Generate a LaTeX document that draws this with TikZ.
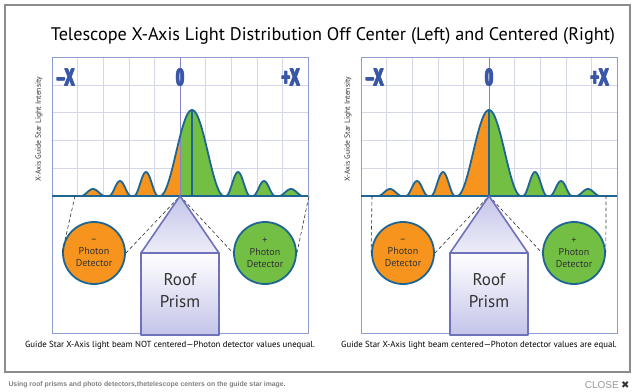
\documentclass[tikz,border=0pt]{standalone}
\usepackage{fontspec}
\setmainfont{PT Sans}
\newfontfamily\footfont{Liberation Sans}
\newfontfamily\heavyfont[FakeBold=2.5]{Liberation Sans}
\newfontfamily\symfont{DejaVu Sans}
\usepackage{tikz}
\usetikzlibrary{positioning}
\newcommand\thicktext[1]{\rlap{#1}\hspace{1pt}\rlap{#1}\hspace{1pt}#1}

\definecolor{frameblue}{HTML}{8F9CD0}
\definecolor{gridgray}{HTML}{D3D7E8}
\definecolor{axispurple}{HTML}{8783C4}
\definecolor{curveblue}{HTML}{1F6592}
\definecolor{lightorange}{HTML}{F7941E}
\definecolor{lightgreen}{HTML}{72BF44}
\definecolor{prismblue}{HTML}{6E72B8}
\definecolor{prismfill}{HTML}{C4C4EA}
\definecolor{labelblue}{HTML}{3A57A7}
\definecolor{textgray}{HTML}{333333}

\begin{document}
\begin{tikzpicture}[x=1pt,y=-1pt,
		declare function={cb(\t)=cos(90*max(-1,min(1,\t)));
			bump(\u,\c,\w)=cb((\u-\c)/\w)*cb((\u-\c)/\w);
			lobe(\u)=86*bump(\u,0,32)+24*bump(abs(\u),46,12)+15*bump(abs(\u),72,11)+7*bump(abs(\u),99,12);},
		detector/.style={circle,draw=curveblue,line width=1.8pt,minimum size=62pt,inner sep=0pt,align=center,font=\fontsize{10}{12}\selectfont,text=textgray},
		axislabel/.style={text=labelblue,font=\heavyfont\bfseries\fontsize{24}{24}\selectfont,xscale=0.6},
		ylabel/.style={rotate=90,text=textgray,font=\fontsize{7.6}{8}\selectfont},
		caption/.style={text=black,font=\fontsize{8.8}{10}\selectfont},
		prismtext/.style={align=center,text=textgray,font=\fontsize{17}{22}\selectfont},
		prism/.style={draw=prismblue,line width=1.6pt,line join=round},
		beam/.style={draw=textgray,line width=0.6pt,dash pattern=on 3.5pt off 2.5pt},
		curve/.style={curveblue,line width=1.8pt,line join=round}]
	\useasboundingbox (0,0) rectangle (640,391);
	\fill[white] (0,0) rectangle (640,391);
	\draw[gray!90,line width=1.5pt] (5,5) rectangle (630,372);
	\node[anchor=base,font=\fontsize{18.2}{20}\selectfont] (title) at (333,40) {Telescope X-Axis Light Distribution Off Center (Left) and Centered (Right)};

	\foreach \i/\sx/\pk/\note in {L/52/140/{Guide Star X-Axis light beam NOT centered—Photon detector values unequal.},
			R/361/128/{Guide Star X-Axis light beam centered—Photon detector values are equal.}}{
		\begin{scope}[xshift=\sx]
			\foreach \gx in {1,...,9}
				\draw[gridgray] (\gx*25.6,57) -- (\gx*25.6,196);
			\foreach \gy in {1,...,4}
				\draw[gridgray] (0,57+\gy*27.8) -- (256,57+\gy*27.8);
			\begin{scope}
				\clip (0,50) rectangle (128,200);
				\fill[lightorange] (\pk-117,196) -- plot[domain=-117:117,samples=235] ({\pk+\x},{196-lobe(\x)}) -- cycle;
			\end{scope}
			\begin{scope}
				\clip (128,50) rectangle (260,200);
				\fill[lightgreen] (\pk-117,196) -- plot[domain=-117:117,samples=235] ({\pk+\x},{196-lobe(\x)}) -- cycle;
			\end{scope}
			\draw[axispurple,line width=0.8pt] (128,57) -- (128,196);
			\draw[curve] plot[domain=-117:117,samples=235] ({\pk+\x},{196-lobe(\x)});
			\draw[curve] (\pk,110) -- (\pk,196);
			\draw[frameblue,line width=0.8pt] (0,57) rectangle (256,196);
			\draw[frameblue,line width=0.8pt] (0,196) rectangle (256,333);
			\draw[curve] (0,196) -- (256,196);

			\node[axislabel] (negx\i) at (13.5,77) {\thicktext{–X}};
			\node[axislabel] (zero\i) at (128,77) {\thicktext{0}};
			\node[axislabel] (posx\i) at (238.5,77) {\thicktext{+X}};
			\node[ylabel] (ylab\i) at (-13,129) {X-Axis Guide Star Light Intensity};

			\coordinate (apex\i) at (128,196);
			\coordinate (start\i) at (\pk-117,196);
			\coordinate (end\i) at (\pk+117,196);
			\node[detector,fill=lightorange] (minus\i) at (42,253) {–\\Photon\\Detector};
			\node[detector,fill=lightgreen] (plus\i) at (213,253) {+\\Photon\\Detector};
			\draw[beam] (start\i) -- (minus\i.west)
				(minus\i.east) -- (apex\i) -- (plus\i.west)
				(plus\i.east) -- (end\i);
			\draw[prism,top color=prismfill,bottom color=prismfill!30] (apex\i) -- (89,253) -- (167,253) -- cycle;
			\draw[prism,top color=white,bottom color=prismfill] (89,253) rectangle (167,335);
			\node[prismtext] (prism\i) at (128,291) {Roof\\Prism};
			\node[caption] (note\i) at (118,345) {\note};
		\end{scope}
	}

	\node[anchor=base west,text=gray,font=\footfont\bfseries\fontsize{6.85}{7}\selectfont] (footer) at (5,386) {Using roof prisms and photo detectors,thetelescope centers on the guide star image.};
	\node[anchor=base east,text=gray!80,inner sep=0pt,font=\footfont\fontsize{10}{10}\selectfont] (close) at (619,388) {CLOSE};
	\node[text=textgray,inner sep=0pt,font=\symfont\fontsize{10}{10}\selectfont,right=2pt of close.base east,anchor=base west] (closex) {✖};
\end{tikzpicture}
\end{document}
